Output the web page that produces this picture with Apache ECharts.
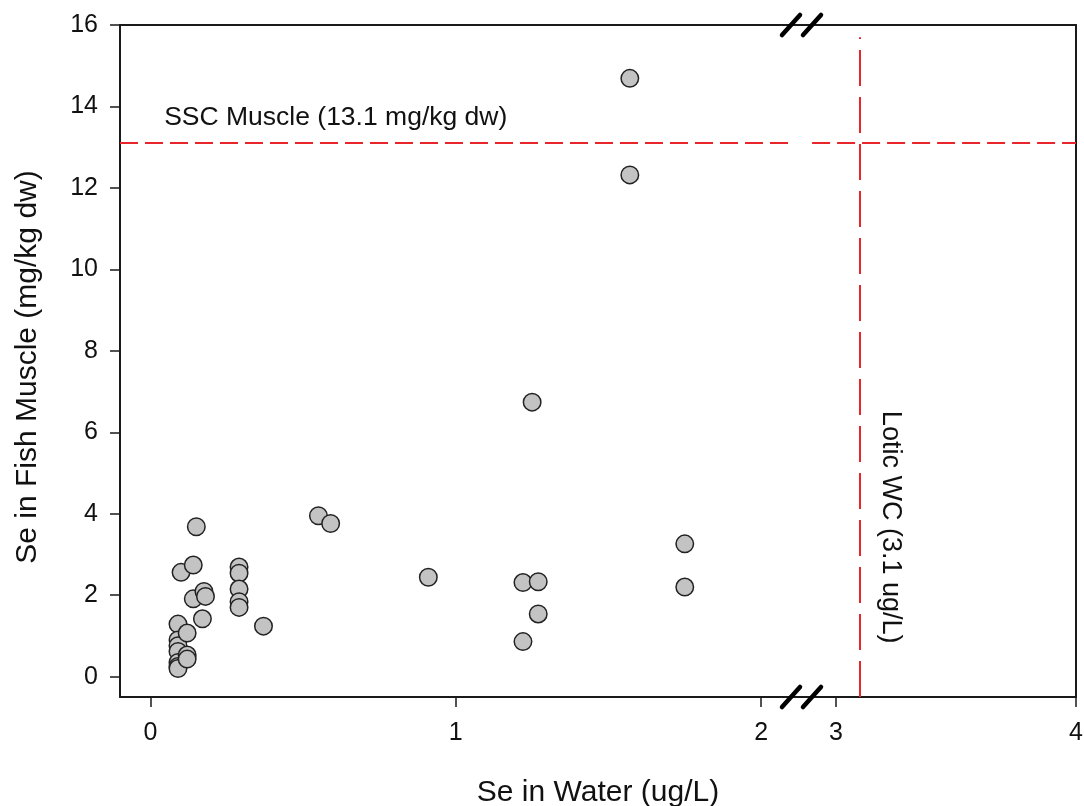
<!DOCTYPE html>
<html>
<head>
<meta charset="utf-8">
<script src="https://cdn.jsdelivr.net/npm/echarts@6/dist/echarts.min.js"></script>
<style>
  html, body { margin: 0; padding: 0; background: #fff; }
  #chart { width: 1084px; height: 806px; }
</style>
</head>
<body>
<div id="chart"></div>
<script>
// measured values (ug/L in water, mg/kg dw in muscle)
const waterSe = [
  0.09, 0.09, 0.09, 0.09, 0.09, 0.09, 0.09,
  0.12, 0.12, 0.12,
  0.10, 0.14, 0.15,
  0.14, 0.175, 0.18, 0.17,
  0.29, 0.29, 0.29, 0.29, 0.29,
  0.37,
  0.55, 0.59,
  0.91,
  1.22, 1.27, 1.27, 1.22, 1.25,
  1.57, 1.57,
  1.75, 1.75
];
const muscleSe = [
  1.29, 0.90, 0.76, 0.62, 0.35, 0.25, 0.20,
  1.07, 0.53, 0.43,
  2.56, 2.74, 3.68,
  1.91, 2.09, 1.97, 1.42,
  2.69, 2.54, 2.15, 1.84, 1.70,
  1.24,
  3.95, 3.76,
  2.44,
  2.31, 2.33, 1.54, 0.86, 6.74,
  14.69, 12.32,
  3.26, 2.20
];

const sscMuscle = 13.1;   // mg/kg dw
const loticWC = 3.1;      // ug/L

const yTicks = [0, 2, 4, 6, 8, 10, 12, 14, 16];
const xTicksLeft = [0, 1, 2];
const xTicksRight = [3, 4];

// broken axis: left segment and right segment
const leftRange = [-0.1, 2.134];
const rightRange = [2.858, 4];
const yRange = [-0.5, 16];

const points = waterSe.map((x, i) => [x, muscleSe[i]]);

const RED = '#e8252a';
const FONT = '"Liberation Sans", Arial, sans-serif';

const chart = echarts.init(document.getElementById('chart'));

const G_TOP = 25, G_H = 672, BREAK_X = 802, G_LEFT = 120, G_RIGHT = 1076;

function axisBase(extra) {
  return Object.assign({
    type: 'value',
    splitLine: { show: false },
    axisLine: { show: true, onZero: false, lineStyle: { color: '#1a1a1a', width: 2 } },
    axisTick: { show: false },
    axisLabel: { show: false }
  }, extra);
}

const tickStyle = { color: '#1a1a1a', width: 1.5 };
const labelStyle = { fontSize: 25, fontFamily: FONT, color: '#111' };

const option = {
  animation: false,
  grid: [
    { left: G_LEFT, top: G_TOP, width: BREAK_X - G_LEFT, height: G_H, containLabel: false, outerBoundsMode: 'none' },
    { left: BREAK_X, top: G_TOP, width: G_RIGHT - BREAK_X, height: G_H, containLabel: false, outerBoundsMode: 'none' }
  ],
  xAxis: [
    axisBase({
      gridIndex: 0, position: 'bottom', min: leftRange[0], max: leftRange[1],
      axisTick: { show: true, length: 10, lineStyle: tickStyle, customValues: xTicksLeft },
      axisLabel: Object.assign({ show: true, customValues: xTicksLeft, margin: 24 }, labelStyle)
    }),
    axisBase({
      gridIndex: 1, position: 'bottom', min: rightRange[0], max: rightRange[1],
      axisTick: { show: true, length: 10, lineStyle: tickStyle, customValues: xTicksRight },
      axisLabel: Object.assign({ show: true, customValues: xTicksRight, margin: 24 }, labelStyle)
    }),
    axisBase({ gridIndex: 0, position: 'top', min: leftRange[0], max: leftRange[1] }),
    axisBase({ gridIndex: 1, position: 'top', min: rightRange[0], max: rightRange[1] })
  ],
  yAxis: [
    axisBase({
      gridIndex: 0, position: 'left', min: yRange[0], max: yRange[1],
      axisTick: { show: true, length: 10, lineStyle: tickStyle, customValues: yTicks },
      axisLabel: Object.assign({ show: true, customValues: yTicks, margin: 22 }, labelStyle)
    }),
    axisBase({ gridIndex: 1, position: 'right', min: yRange[0], max: yRange[1] })
  ],
  series: [
    {
      type: 'scatter',
      xAxisIndex: 0, yAxisIndex: 0,
      data: points,
      symbolSize: 17.5,
      itemStyle: { color: '#c3c3c3', borderColor: '#222', borderWidth: 1.5, opacity: 1 },
      z: 5,
      markLine: {
        silent: true, symbol: 'none', animation: false,
        lineStyle: { color: RED, width: 2, type: [18, 7] },
        label: { show: false },
        data: [[
          { coord: [leftRange[0], sscMuscle] },
          { coord: [2.11, sscMuscle] }
        ]]
      }
    },
    {
      type: 'scatter',
      xAxisIndex: 1, yAxisIndex: 1,
      data: [],
      markLine: {
        silent: true, symbol: 'none', animation: false,
        lineStyle: { color: RED, width: 2, type: [18, 7] },
        label: { show: false },
        data: [
          [
            { coord: [2.90, sscMuscle] },
            { coord: [rightRange[1], sscMuscle] }
          ],
          [
            { coord: [loticWC, yRange[0]], lineStyle: { type: [36, 11] } },
            { coord: [loticWC, 15.7] }
          ]
        ]
      }
    },
    {
      // text annotations placed in data space
      type: 'scatter',
      xAxisIndex: 0, yAxisIndex: 0,
      symbolSize: 1, silent: true,
      itemStyle: { color: 'rgba(0,0,0,0)', opacity: 1 },
      data: [[0.043, 13.72]],
      label: {
        show: true, position: 'right', distance: 0, opacity: 1,
        formatter: 'SSC Muscle (13.1 mg/kg dw)',
        fontSize: 26.5, fontFamily: FONT, color: '#111'
      }
    },
    {
      type: 'scatter',
      xAxisIndex: 1, yAxisIndex: 1,
      symbolSize: 1, silent: true,
      itemStyle: { color: 'rgba(0,0,0,0)', opacity: 1 },
      data: [[3.225, 3.67]],
      label: {
        show: true, position: 'inside', rotate: -90, opacity: 1,
        formatter: 'Lotic WC (3.1 ug/L)',
        fontSize: 27, fontFamily: FONT, color: '#111'
      }
    }
  ],
  graphic: [
    {
      type: 'text', x: (G_LEFT + G_RIGHT) / 2, y: 793,
      style: { text: 'Se in Water (ug/L)', font: '30px ' + FONT, fill: '#111', align: 'center', verticalAlign: 'middle' }
    },
    {
      type: 'text', x: 28, y: G_TOP + G_H / 2 + 6, rotation: Math.PI / 2,
      style: { text: 'Se in Fish Muscle (mg/kg dw)', font: '30px ' + FONT, fill: '#111', align: 'center', verticalAlign: 'middle' }
    }
  ]
};

// axis-break slashes on top and bottom frame lines
[G_TOP, G_TOP + G_H].forEach(function (yy) {
  [-20, 1].forEach(function (dx) {
    option.graphic.push({
      type: 'line', z: 100,
      shape: { x1: BREAK_X + dx, y1: yy + 10, x2: BREAK_X + dx + 18, y2: yy - 10 },
      style: { stroke: '#000', lineWidth: 4.5, lineCap: 'round' }
    });
  });
});

chart.setOption(option);
</script>
</body>
</html>
